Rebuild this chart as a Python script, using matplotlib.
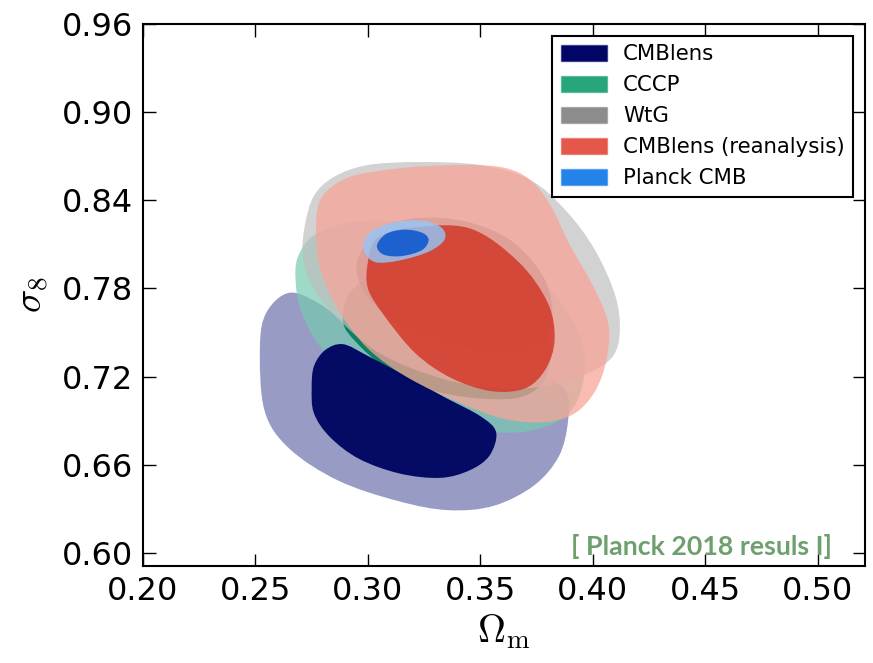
import numpy as np
import matplotlib.pyplot as plt
import matplotlib.patches as mpatches
from matplotlib.path import Path
from matplotlib.colors import to_rgba

plt.rcParams['mathtext.fontset'] = 'cm'

# contour outlines (Omega_m, sigma_8), 95% and 68% levels
cmblens_95_om = [0.252, 0.255, 0.265, 0.278, 0.296, 0.323, 0.350, 0.376, 0.388, 0.389, 0.385, 0.374, 0.356, 0.336, 0.314, 0.287, 0.265, 0.254]
cmblens_95_s8 = [0.741, 0.764, 0.777, 0.770, 0.751, 0.736, 0.725, 0.721, 0.710, 0.690, 0.666, 0.646, 0.632, 0.629, 0.635, 0.649, 0.671, 0.697]
cmblens_68_om = [0.275, 0.276, 0.281, 0.289, 0.300, 0.316, 0.334, 0.350, 0.357, 0.354, 0.345, 0.332, 0.314, 0.296, 0.283, 0.276]
cmblens_68_s8 = [0.712, 0.727, 0.738, 0.742, 0.734, 0.721, 0.706, 0.693, 0.682, 0.666, 0.656, 0.651, 0.654, 0.664, 0.679, 0.695]

cccp_95_om = [0.268, 0.269, 0.278, 0.300, 0.332, 0.363, 0.385, 0.396, 0.394, 0.385, 0.367, 0.345, 0.318, 0.296, 0.279, 0.271]
cccp_95_s8 = [0.782, 0.802, 0.818, 0.826, 0.821, 0.800, 0.772, 0.738, 0.707, 0.690, 0.682, 0.685, 0.697, 0.714, 0.740, 0.762]
cccp_68_om = [0.289, 0.292, 0.307, 0.336, 0.363, 0.379, 0.380, 0.370, 0.350, 0.325, 0.307, 0.295]
cccp_68_s8 = [0.757, 0.777, 0.792, 0.796, 0.779, 0.751, 0.723, 0.707, 0.705, 0.712, 0.727, 0.743]

wtg_95_om = [0.271, 0.272, 0.276, 0.285, 0.300, 0.323, 0.350, 0.372, 0.388, 0.401, 0.410, 0.412, 0.409, 0.399, 0.381, 0.358, 0.332, 0.305, 0.285, 0.275]
wtg_95_s8 = [0.802, 0.823, 0.843, 0.856, 0.864, 0.866, 0.864, 0.854, 0.833, 0.806, 0.775, 0.751, 0.734, 0.723, 0.714, 0.712, 0.719, 0.736, 0.762, 0.782]
wtg_68_om = [0.295, 0.305, 0.323, 0.345, 0.365, 0.379, 0.382, 0.377, 0.364, 0.342, 0.318, 0.301]
wtg_68_s8 = [0.796, 0.820, 0.828, 0.825, 0.811, 0.785, 0.758, 0.743, 0.736, 0.740, 0.753, 0.772]

rean_95_om = [0.277, 0.278, 0.283, 0.292, 0.305, 0.323, 0.345, 0.361, 0.372, 0.381, 0.390, 0.401, 0.407, 0.406, 0.401, 0.392, 0.379, 0.361, 0.341, 0.318, 0.300, 0.287, 0.279]
rean_95_s8 = [0.816, 0.837, 0.848, 0.856, 0.860, 0.863, 0.864, 0.862, 0.854, 0.837, 0.809, 0.779, 0.755, 0.731, 0.710, 0.695, 0.689, 0.691, 0.702, 0.719, 0.739, 0.765, 0.792]
rean_68_om = [0.300, 0.304, 0.318, 0.345, 0.367, 0.380, 0.383, 0.379, 0.370, 0.355, 0.337, 0.321, 0.307, 0.300]
rean_68_s8 = [0.798, 0.814, 0.821, 0.821, 0.798, 0.770, 0.745, 0.725, 0.712, 0.710, 0.719, 0.736, 0.762, 0.780]

planck_95_om = [0.298, 0.301, 0.312, 0.325, 0.333, 0.334, 0.327, 0.314, 0.303]
planck_95_s8 = [0.807, 0.818, 0.825, 0.826, 0.821, 0.813, 0.805, 0.799, 0.798]
planck_68_om = [0.304, 0.308, 0.316, 0.324, 0.327, 0.324, 0.315, 0.307]
planck_68_s8 = [0.809, 0.817, 0.820, 0.818, 0.813, 0.806, 0.802, 0.803]

labels = ['CMBlens', 'CCCP', 'WtG', 'CMBlens (reanalysis)', 'Planck CMB']
legend_colors = ['#000566', '#26a67a', '#8c8c8c', '#e4574a', '#2383e9']
x_ticks = [0.20, 0.25, 0.30, 0.35, 0.40, 0.45, 0.50]
y_ticks = [0.60, 0.66, 0.72, 0.78, 0.84, 0.90, 0.96]


def blob(xs, ys):
    # closed smooth outline through the points (Catmull-Rom as cubic beziers)
    p = np.column_stack([xs, ys])
    n = len(p)
    verts = [p[0]]
    codes = [Path.MOVETO]
    for i in range(n):
        p0, p1, p2, p3 = p[i - 1], p[i], p[(i + 1) % n], p[(i + 2) % n]
        verts += [p1 + (p2 - p0) / 6, p2 - (p3 - p1) / 6, p2]
        codes += [Path.CURVE4] * 3
    verts.append(p[0])
    codes.append(Path.CLOSEPOLY)
    return Path(verts, codes)


fig = plt.figure(figsize=(8.73, 6.63), dpi=100)
ax = fig.add_axes([0.1638, 0.1463, 0.8270, 0.8175])

layers = [
    (cmblens_95_om, cmblens_95_s8, '#6d72ab', 0.7),
    (cccp_95_om, cccp_95_s8, '#77cab0', 0.7),
    (cccp_68_om, cccp_68_s8, '#007a57', 0.9),
    (cmblens_68_om, cmblens_68_s8, '#000562', 0.97),
    (wtg_95_om, wtg_95_s8, '#bfbfbf', 0.7),
    (wtg_68_om, wtg_68_s8, '#808080', 0.7),
    (rean_95_om, rean_95_s8, '#f8a499', 0.75),
    (rean_68_om, rean_68_s8, '#d33929', 0.85),
    (planck_95_om, planck_95_s8, '#93c8fc', 0.8),
    (planck_68_om, planck_68_s8, '#0f59cf', 0.9),
]
for xs, ys, c, a in layers:
    ax.add_patch(mpatches.PathPatch(blob(xs, ys), facecolor=c, edgecolor='none', alpha=a))

ax.set_xlim(0.2, 0.521)
ax.set_ylim(0.591, 0.96)
ax.set_xticks(x_ticks)
ax.set_yticks(y_ticks)
ax.set_xticklabels(['%.2f' % v for v in x_ticks])
ax.set_yticklabels(['%.2f' % v for v in y_ticks])
ax.tick_params(direction='in', length=9, width=1, labelsize=23, pad=7,
               top=True, right=True)
for s in ax.spines.values():
    s.set_linewidth(1.5)

ax.set_xlabel(r'$\Omega_{\rm m}$', fontsize=28, labelpad=4)
ax.set_ylabel(r'$\sigma_8$', fontsize=28, labelpad=8)

handles = [mpatches.Patch(facecolor=c, edgecolor=to_rgba(c, 0.5), lw=1) for c in legend_colors]
leg = ax.legend(handles, labels, loc='upper right', fontsize=15.3, fancybox=False,
                edgecolor='black', framealpha=1, handlelength=2.15, handleheight=0.8,
                handletextpad=0.77, labelspacing=0.52, borderaxespad=0.55)
leg.get_frame().set_linewidth(1.5)

ax.text(0.955, 0.012, '[ Planck 2018 resuls I]', transform=ax.transAxes,
        ha='right', va='bottom', fontsize=19.3, fontfamily='Lato',
        fontweight='bold', color='#6ea06e')

fig.savefig('out.png', dpi=100)
